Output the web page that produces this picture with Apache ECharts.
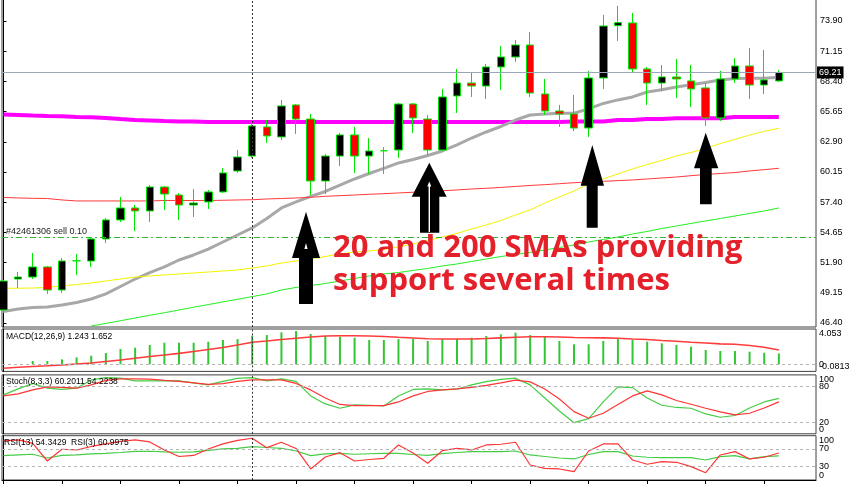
<!DOCTYPE html>
<html><head><meta charset="utf-8">
<script src="https://cdn.jsdelivr.net/npm/echarts@6/dist/echarts.min.js"></script>
<style>html,body{margin:0;padding:0;background:#fff}#c{width:852px;height:485px}</style>
</head><body><div id="c"></div>
<script>
// ---- price candles (index 0..53) ----
const opens  = [47.58,50.40,50.58,51.50,49.40,52.06,52.04,54.05,55.78,56.87,56.60,58.78,58.05,57.14,57.42,58.33,60.24,61.60,64.25,63.34,66.25,64.97,59.33,61.60,63.52,61.60,62.08,62.15,66.34,64.97,62.15,67.07,68.25,67.98,69.71,70.62,71.71,67.25,65.70,65.43,64.15,68.71,73.47,73.72,69.53,68.25,68.80,68.44,67.80,65.07,68.62,69.80,68.07,68.44];
const closes = [50.22,50.58,51.50,49.40,52.04,52.06,54.05,55.78,56.87,56.60,58.78,58.14,57.14,57.32,58.33,60.06,61.51,64.34,63.43,66.16,64.97,59.33,61.60,63.52,61.60,62.06,62.08,66.34,65.07,62.15,66.98,68.25,67.98,69.71,70.62,71.71,67.34,65.70,65.43,64.15,68.71,73.44,73.75,69.53,68.25,68.80,68.62,67.71,65.07,68.62,69.80,68.07,68.53,69.21];
const lows   = [47.30,49.58,50.40,49.04,49.13,50.77,51.50,53.68,55.59,54.77,55.59,56.69,55.78,56.05,56.78,58.23,60.06,61.42,62.79,63.06,63.61,58.05,58.14,60.69,60.06,59.97,59.97,61.42,63.70,61.70,62.06,65.52,66.98,66.80,67.62,70.17,66.98,65.34,64.25,63.88,63.34,67.71,72.08,69.16,66.25,67.52,66.89,66.07,64.34,64.79,68.25,66.80,67.25,68.34];
const highs  = [50.31,51.04,52.77,51.59,52.31,52.68,54.14,55.96,57.87,57.14,58.96,58.87,58.23,58.60,58.51,60.51,62.15,64.70,64.88,66.71,66.34,65.43,61.79,63.70,64.25,63.24,62.42,66.43,66.43,65.34,67.71,69.53,69.26,69.98,71.62,72.17,72.90,68.62,66.25,67.16,69.35,74.45,75.27,74.63,69.71,69.89,70.44,69.89,68.25,69.35,70.53,71.44,71.26,69.44];

// ---- moving averages on price chart ----
const maMagenta = [65.38,65.34,65.29,65.25,65.22,65.16,65.13,65.07,64.97,64.88,64.84,64.79,64.75,64.75,64.70,64.70,64.70,64.70,64.70,64.70,64.70,64.70,64.70,64.70,64.70,64.70,64.70,64.70,64.70,64.70,64.70,64.70,64.70,64.70,64.70,64.70,64.70,64.70,64.70,64.75,64.75,64.75,64.88,64.88,64.97,64.97,65.04,65.04,65.04,65.04,65.16,65.16,65.16,65.16];
const maGrey = [47.44,47.67,47.81,47.85,48.03,48.26,48.58,49.04,49.72,50.40,50.99,51.50,52.13,52.59,53.13,53.77,54.41,55.05,55.91,56.87,57.42,57.92,58.37,58.96,59.51,60.01,60.47,60.97,61.29,61.65,62.06,62.61,63.24,63.79,64.29,64.88,65.34,65.43,65.49,65.49,65.89,66.39,66.71,66.98,67.43,67.64,67.89,68.09,68.30,68.53,68.65,68.68,68.68,68.77];
const maRed = [57.83,57.78,57.75,57.73,57.60,57.51,57.51,57.51,57.51,57.51,57.51,57.55,57.55,57.55,57.55,57.57,57.60,57.62,57.69,57.73,57.78,57.84,57.93,57.99,58.05,58.12,58.17,58.24,58.30,58.37,58.44,58.51,58.60,58.66,58.74,58.83,58.92,58.99,59.08,59.17,59.24,59.30,59.36,59.42,59.51,59.60,59.69,59.81,59.92,60.01,60.10,60.24,60.36,60.48];
const maYellow = [49.56,49.56,49.58,49.63,49.77,49.90,50.04,50.22,50.40,50.58,50.68,50.77,50.86,50.95,51.04,51.13,51.22,51.40,51.59,51.86,52.04,52.22,52.45,52.68,52.86,52.95,53.09,53.32,53.59,53.91,54.23,54.55,54.96,55.32,55.73,56.23,56.69,57.32,57.87,58.42,59.05,59.51,59.97,60.42,60.83,61.20,61.60,61.92,62.29,62.74,63.11,63.52,63.84,64.13];
const maGreen = [null,null,null,null,null,null,46.12,46.36,46.60,46.85,47.10,47.33,47.58,47.83,48.07,48.32,48.55,48.80,49.04,49.40,49.63,49.81,49.99,50.22,50.45,50.68,50.86,50.99,51.18,51.36,51.59,51.77,52.00,52.22,52.45,52.63,52.82,53.04,53.27,53.50,53.77,54.00,54.23,54.50,54.73,55.00,55.23,55.46,55.69,55.91,56.14,56.37,56.60,56.87];

// ---- indicators ----
const macdHist = [0,0,0.38,0.38,0.57,0.80,0.99,1.30,1.76,1.91,2.22,2.48,2.48,2.48,2.59,2.79,2.90,3.28,3.36,3.67,3.82,3.48,3.25,3.17,3.05,2.79,2.79,2.90,2.90,2.68,2.90,2.90,3.05,3.25,3.44,3.63,3.36,3.17,2.68,2.30,2.30,2.68,2.90,2.79,2.59,2.41,2.22,2.02,1.64,1.53,1.53,1.45,1.33,1.243];
const macdSignal = [-0.45,-0.34,-0.25,-0.17,-0.08,0.03,0.15,0.32,0.49,0.69,0.90,1.07,1.26,1.47,1.70,1.93,2.22,2.53,2.68,2.85,2.99,3.13,3.25,3.28,3.28,3.25,3.19,3.10,3.02,2.94,2.90,2.90,2.90,2.96,3.04,3.11,3.17,3.17,3.13,3.08,3.05,3.04,2.99,2.90,2.85,2.73,2.64,2.54,2.45,2.35,2.30,2.16,1.95,1.652];
const stochMain = [66.0,76.2,85.5,77.4,75.3,77.4,91.5,95.4,94.4,89.8,89.8,89.8,89.8,86.4,83.0,88.9,94.0,95.4,89.8,93.2,88.9,64.3,50.7,43.4,49.0,48.5,47.3,64.3,75.3,76.2,74.5,75.7,83.0,88.6,92.3,94.4,83.0,60.9,38.8,18.9,25.7,54.1,79.6,78.4,60.9,48.5,44.7,43.4,33.7,28.1,31.1,43.9,54.1,60.2];
const stochSignal = [64.3,67.7,74.5,79.6,78.7,77.4,83.0,90.6,93.2,93.2,92.7,90.6,88.9,86.4,83.8,85.2,88.9,91.5,91.5,91.5,85.5,74.5,60.9,49.8,47.8,47.8,47.8,54.1,64.3,71.9,74.5,76.2,78.7,82.1,86.4,91.0,88.1,76.2,59.2,37.6,26.4,34.9,49.8,64.3,72.8,66.0,56.6,50.2,43.4,37.1,32.0,34.9,43.9,54.2];
const rsi13 = [54.9,56.5,58.1,49.7,55.4,56.5,58.8,60.3,62.1,64.4,64.9,63.3,62.6,63.3,66.7,70.1,71.6,75.3,73.4,71.6,65.5,54.9,58.8,60.3,58.1,59.2,60.3,60.3,57.6,55.8,59.4,62.1,64.0,64.0,64.0,65.5,56.5,53.1,49.7,47.5,57.6,64.0,64.0,54.2,51.3,50.4,50.4,50.4,45.2,52.7,54.9,47.5,52.7,54.34];
const rsi3 = [88.1,90.4,82.5,42.9,69.4,67.8,75.7,81.4,87.0,90.4,85.9,67.8,53.1,55.4,70.1,81.4,89.3,94.2,73.0,85.2,71.2,24.9,52.0,61.7,42.9,46.3,49.0,79.1,61.0,37.7,66.2,71.6,67.8,79.1,80.7,85.2,33.9,26.4,24.9,18.8,65.5,81.4,81.4,45.2,35.5,41.4,40.0,30.1,16.5,56.5,64.0,47.5,51.3,61.0];

// ---- axis ticks / levels ----
const priceTicks = [46.40,49.15,51.90,54.65,57.40,60.15,62.90,65.65,68.40,71.15,73.90];
const macdEnds = [-0.813,4.053];
const macdEndText = {'-0.813':'-0.0813','4.053':'4.053'};
const macdInner = [0];
const stochEnds = [0,100], stochInner = [20,80];
const rsiEnds = [0,100], rsiInner = [30,70];
const timeTicks = [0,4,8,12,16,20,24,28,32,36,40,44,48,52];
const bidPrice = 69.21, orderPrice = 54.23, separatorBar = 17;

const chart = echarts.init(document.getElementById('c'));
const pairs = a => a.map((v,i)=>[i,v]);
const LBL = {fontSize:9, fontFamily:'Liberation Sans', color:'#000'};
const X0 = -0.1, X1 = 55.54;
const grids = [
  {left:2, right:36, top:-1, height:328},
  {left:2, right:36, top:329, height:42.4},
  {left:2, right:36, top:374.9, height:58.9},
  {left:2, right:36, top:435.7, height:44.3}
].map(g=>Object.assign({show:true, borderColor:'#404040', borderWidth:1, backgroundColor:'transparent', outerBoundsMode:'none', containLabel:false}, g));

const xAxes = grids.map((g,k)=>({
  gridIndex:k, type:'value', min:X0, max:X1, show:k===3,
  axisLine:{show:k===3, lineStyle:{color:'#000'}},
  axisTick:{show:k===3, length:4, customValues:timeTicks, lineStyle:{color:'#000'}},
  axisLabel:{show:false}, splitLine:{show:false}
}));
function yAx(k,min,max,ticks,fmt,ends){
  return {gridIndex:k, type:'value', position:'right', min, max, scale:true,
    axisLine:{show:ends, lineStyle:{color:'#000'}},
    axisTick:{show:k===0, length:3, customValues:ticks, lineStyle:{color:'#000'}},
    axisLabel:Object.assign({customValues:ticks, formatter:fmt, margin:k===0?4:3,
      showMinLabel:true, showMaxLabel:true, hideOverlap:false,
      verticalAlignMinLabel:ends&&k>0?'bottom':'middle', verticalAlignMaxLabel:ends&&k>0?'top':'middle'}, LBL),
    splitLine:{show:false}};
}
const yAxes = [
  yAx(0,46.03,75.90,priceTicks,v=>v.toFixed(2),true),
  yAx(1,-0.813,4.053,macdEnds,v=>macdEndText[String(v)] ?? String(v),true),
  yAx(2,0,100,stochEnds,v=>String(v),true),
  yAx(3,0,100,rsiEnds,v=>String(v),true),
  yAx(1,-0.813,4.053,macdInner,v=>String(v),false),
  yAx(2,0,100,stochInner,v=>String(v),false),
  yAx(3,0,100,rsiInner,v=>String(v),false)
];
const vline = {xAxis:separatorBar, lineStyle:{type:[2,2], color:'#333', width:1}, label:{show:false}};
function lvl(v){return {yAxis:v, lineStyle:{type:[3,3], color:'#b4b4b4', width:1}, label:{show:false}};}
const ml = data => ({symbol:['none','none'], silent:true, animation:false, label:{show:false}, data});
function line(k,data,color,width,z){return {type:'line', xAxisIndex:k, yAxisIndex:k, data:pairs(data), symbol:'none', showSymbol:false, connectNulls:false, lineStyle:{color, width}, itemStyle:{color}, z:z||2, silent:true};}

const series = [
  line(0,maMagenta,'#ff00ff',4),
  line(0,maGrey,'#a8a8a8',3),
  line(0,maRed,'#ff3a3a',1),
  line(0,maYellow,'#f4f400',1),
  line(0,maGreen,'#22ee22',1),
  {type:'candlestick', xAxisIndex:0, yAxisIndex:0, z:3, barWidth:8,
   encode:{x:0, y:[1,2,3,4]},
   data: opens.map((o,i)=>[i,o,closes[i],lows[i],highs[i]]),
   itemStyle:{color:'#000', color0:'#ff0000', borderColor:'#00e800', borderColor0:'#00e800', borderWidth:1},
   markLine: ml([
     vline,
     {yAxis:bidPrice, lineStyle:{type:'solid', color:'#9aa7b4', width:1},
      label:{show:true, position:'end', distance:1, formatter:'69.21', backgroundColor:'#000', color:'#fff', padding:[2,2,1,2], fontSize:9, fontFamily:'Liberation Sans'}},
     {yAxis:orderPrice, lineStyle:{type:[6,3,2,3], color:'#2fb82f', width:1},
      label:{show:true, position:'insideStartTop', distance:[4,1], formatter:'#42461306 sell 0.10', color:'#222', fontSize:9, fontFamily:'Liberation Sans'}}
   ])},
  {type:'bar', xAxisIndex:1, yAxisIndex:1, data:pairs(macdHist), barWidth:2, itemStyle:{color:'#33c633'}, silent:true,
   markLine: ml([lvl(0), vline])},
  line(1,macdSignal,'#ff3c3c',1.6,3),
  Object.assign(line(2,stochMain,'#44cc44',1.2), {markLine: ml([lvl(20), lvl(80), vline])}),
  line(2,stochSignal,'#ff3535',1.2),
  Object.assign(line(3,rsi13,'#44cc44',1.2), {markLine: ml([lvl(30), lvl(70), vline])}),
  line(3,rsi3,'#ff3535',1.2)
];

function arrow(tipX,tipY,baseY,hx0,hx1,sx0,sx1,botY){
  return {type:'polygon', z:100, shape:{points:[[tipX,tipY],[hx1,baseY],[sx1,baseY],[sx1,botY],[sx0,botY],[sx0,baseY],[hx0,baseY]]}, style:{fill:'#000'}};
}
const txt = (x,y,t) => ({type:'text', z:100, style:{x, y, text:t, fill:'#000', font:'8.5px "Liberation Sans"', verticalAlign:'middle'}});
const graphic = [
  txt(6,337,'MACD(12,26,9) 1.243 1.652'),
  txt(6,382,'Stoch(8,3,3) 60.2011 54.2238'),
  txt(4,443,'RSI(13) 54.3429  RSI(3) 60.9975'),
  arrow(306,211.7,258,292,320,299,313,304),
  {type:'polygon', z:101, shape:{points:[[306,243],[307.6,249],[304.4,249]]}, style:{fill:'#fff'}},
  arrow(429.3,162.7,196.7,411.7,446.7,420,439.3,232.7),
  {type:'polygon', z:101, shape:{points:[[429.3,181.5],[431.3,186.5],[427.3,186.5]]}, style:{fill:'#fff'}},
  {type:'line', z:101, shape:{x1:429.3,y1:185,x2:429.3,y2:232}, style:{stroke:'#fff', lineWidth:1.4}},
  arrow(592.3,145,185.7,580.7,604,586.7,597.7,227.7),
  arrow(705.7,132.7,168.3,694,718.3,700,711.7,204.3),
  {type:'text', z:100, style:{x:333, y:248, text:'20 and 200 SMAs providing', fill:'#e4202a', font:'bold 31px "Open Sans"', verticalAlign:'middle'}},
  {type:'text', z:100, style:{x:333, y:281.5, text:'support several times', fill:'#e4202a', font:'bold 31px "Open Sans"', verticalAlign:'middle'}}
];

chart.setOption({animation:false, backgroundColor:'#fff', grid:grids, xAxis:xAxes, yAxis:yAxes, series, graphic});
</script></body></html>
